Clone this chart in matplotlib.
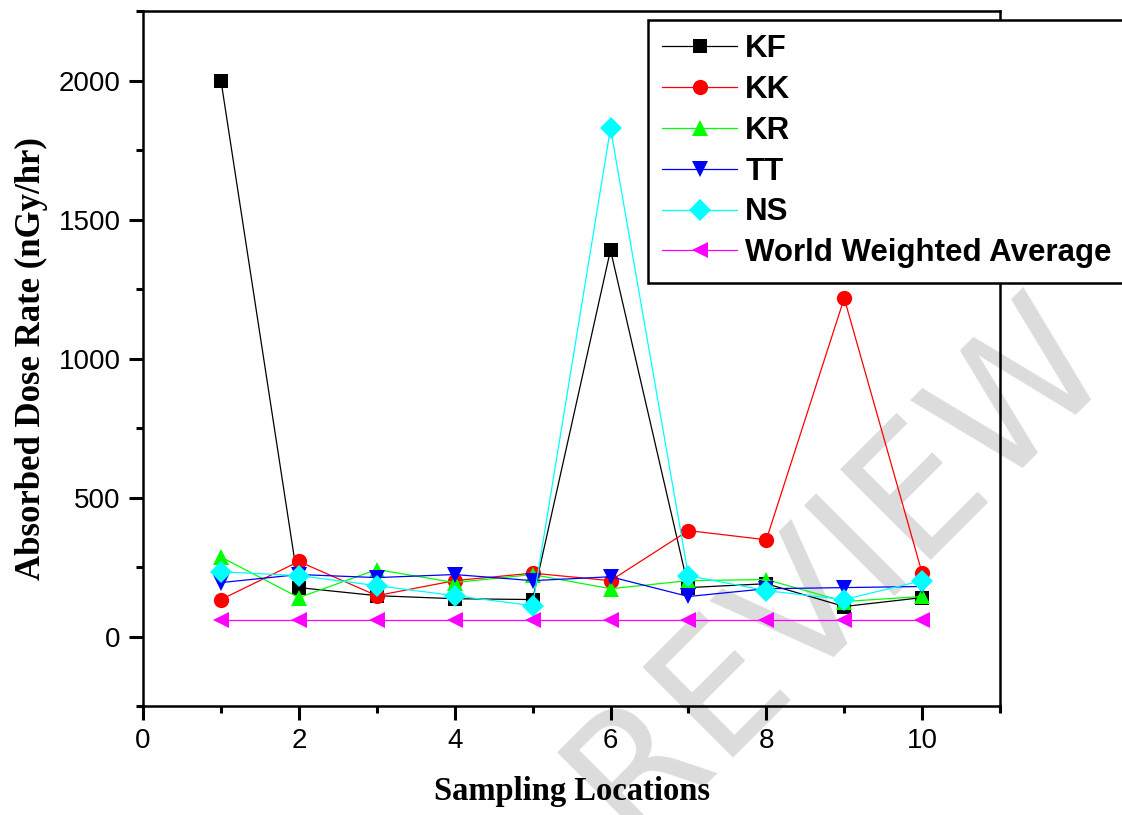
import matplotlib
matplotlib.use("Agg")
import matplotlib.pyplot as plt
from matplotlib.ticker import MultipleLocator

# sampling locations 1..10
locations = [1, 2, 3, 4, 5, 6, 7, 8, 9, 10]

# absorbed dose rate (nGy/hr)
kf = [2000, 176, 147, 136, 133, 1390, 176, 190, 108, 140]
kk = [133, 270, 147, 201, 228, 201, 381, 348, 1217, 228]
kr = [286, 140, 241, 194, 223, 172, 201, 205, 126, 144]
tt = [194, 223, 212, 223, 201, 215, 144, 172, 176, 180]
ns = [233, 219, 183, 147, 111, 1828, 219, 165, 133, 201]
world_avg = [59] * 10

series = [
    ("KF", kf, "#000000", "s", 10),
    ("KK", kk, "#ff0000", "o", 11),
    ("KR", kr, "#00ff00", "^", 12),
    ("TT", tt, "#0000ff", "v", 12),
    ("NS", ns, "#00ffff", "D", 11),
    ("World Weighted Average", world_avg, "#ff00ff", "<", 12),
]

fig = plt.figure(figsize=(11.22, 8.15), dpi=100)
ax = fig.add_axes([0.1275, 0.1337, 0.7638, 0.8528])

# faint watermark behind everything
ax.text(1118 / 1122, 1 - 372 / 815, "PEER REVIEW", transform=fig.transFigure, rotation=45,
        rotation_mode="anchor", ha="right", va="baseline", fontsize=125,
        color="#dcdcdc", family="DejaVu Sans", zorder=0, clip_on=False)

for name, vals, col, mk, ms in series:
    ax.plot(locations, vals, color=col, lw=0.9, marker=mk, ms=ms,
            markeredgewidth=0, label=name, zorder=3)

ax.set_xlim(0, 11)
ax.set_ylim(-250, 2250)
ax.xaxis.set_major_locator(MultipleLocator(2))
ax.xaxis.set_minor_locator(MultipleLocator(1))
ax.yaxis.set_major_locator(MultipleLocator(500))
ax.yaxis.set_minor_locator(MultipleLocator(250))
ax.tick_params(which="both", direction="out", width=2.2, labelsize=20, top=False, right=False)
ax.tick_params(which="major", length=10, pad=6)
ax.tick_params(which="minor", length=5)
for lab in ax.get_xticklabels() + ax.get_yticklabels():
    lab.set_family("Liberation Sans")
for s in ax.spines.values():
    s.set_linewidth(1.8)

ax.set_xlabel("Sampling Locations", family="Liberation Serif", fontweight="bold",
              fontsize=23.5, labelpad=16)
ax.set_ylabel("Absorbed Dose Rate (nGy/hr)", family="Liberation Serif", fontweight="bold",
              fontsize=25, labelpad=8)

leg = fig.legend(loc="upper left", bbox_to_anchor=(648 / 1122, 1 - 20 / 815),
                 prop={"family": "Liberation Sans", "weight": "bold", "size": 22.5},
                 frameon=True, fancybox=False, edgecolor="black", framealpha=1,
                 handlelength=2.4, handletextpad=0.25, labelspacing=0.345,
                 borderpad=0.46, borderaxespad=0)
leg.get_frame().set_linewidth(1.8)

fig.savefig("out.png", dpi=100)
